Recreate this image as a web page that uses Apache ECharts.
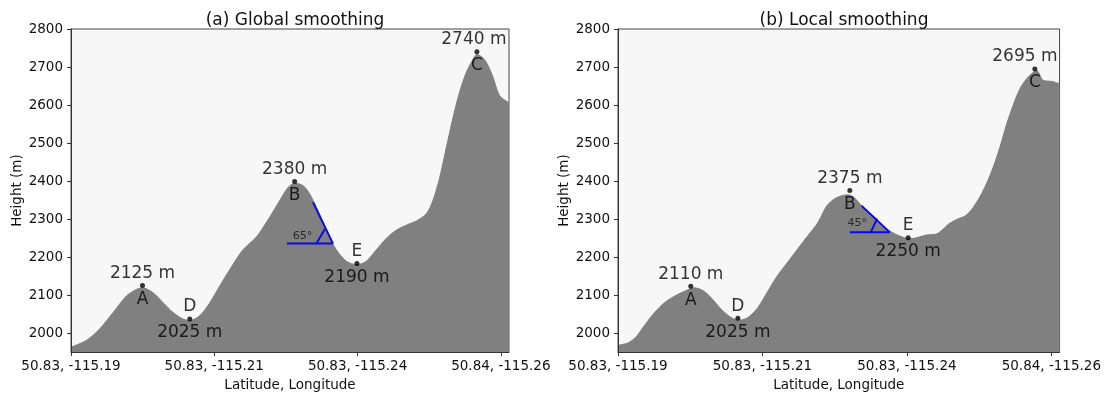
<!DOCTYPE html>
<html>
<head>
<meta charset="utf-8">
<script src="https://cdn.jsdelivr.net/npm/echarts@6/dist/echarts.min.js"></script>
<style>
  html, body { margin: 0; padding: 0; background: #fff; }
  #main { width: 1104px; height: 397px; }
</style>
</head>
<body>
<div id="main"></div>
<script>
// tick labels (lat, lon) at positions 0..3 along the track
var xTickLabels = ['50.83, -115.19', '50.83, -115.21', '50.83, -115.24', '50.84, -115.26']
var xTickPos = [0, 1, 2, 3]
var yTicks = [2000, 2100, 2200, 2300, 2400, 2500, 2600, 2700, 2800]

// (a) global smoothing profile
var distA = [0, 0.109, 0.2, 0.294, 0.388, 0.457, 0.5, 0.573, 0.643, 0.713, 0.782, 0.829, 0.899, 0.969,
  1.038, 1.108, 1.2, 1.294, 1.387, 1.457, 1.515, 1.561, 1.619, 1.666, 1.713, 1.759, 1.805, 1.852,
  1.922, 1.996, 2.061, 2.131, 2.2, 2.271, 2.34, 2.41, 2.48, 2.526, 2.573, 2.619, 2.665, 2.712,
  2.759, 2.794, 2.833, 2.886, 2.942, 2.991, 3.057]
var heightA = [1963, 1981, 2011, 2054, 2098, 2115, 2119, 2106, 2080, 2054, 2037, 2033, 2046, 2080,
  2124, 2167, 2219, 2253, 2305, 2349, 2383, 2394, 2388, 2366, 2331, 2292, 2253, 2219,
  2189, 2180, 2189, 2219, 2249, 2271, 2284, 2295, 2314, 2349, 2409, 2487, 2565, 2634,
  2686, 2712, 2733, 2720, 2677, 2625, 2606]

// (b) local smoothing profile
var distB = [0, 0.068, 0.125, 0.183, 0.253, 0.322, 0.391, 0.46, 0.53, 0.587, 0.645, 0.714, 0.783, 0.841,
  0.899, 0.968, 1.037, 1.107, 1.176, 1.245, 1.314, 1.384, 1.444, 1.49, 1.536, 1.594, 1.64, 1.686,
  1.744, 1.801, 1.859, 1.917, 1.974, 2.021, 2.078, 2.136, 2.206, 2.252, 2.286, 2.344, 2.402, 2.448,
  2.506, 2.552, 2.598, 2.644, 2.69, 2.736, 2.783, 2.829, 2.875, 2.9, 2.943, 3.004, 3.057]
var heightB = [1968, 1974, 1990, 2020, 2054, 2080, 2097, 2110, 2119, 2112, 2093, 2063, 2041, 2034,
  2041, 2067, 2110, 2153, 2187, 2222, 2256, 2291, 2334, 2351, 2360, 2364, 2355, 2335,
  2312, 2291, 2274, 2261, 2252, 2248, 2252, 2258, 2261, 2274, 2286, 2299, 2308, 2325,
  2359, 2394, 2437, 2489, 2549, 2600, 2643, 2669, 2686, 2690, 2665, 2662, 2656]

// marked points A, D, B, E, C
var ptXA = [0.499, 0.829, 1.561, 1.996, 2.833]
var ptYA = [2125, 2037, 2399, 2183, 2740]
var ptTopA = ['2125 m', 'D', '2380 m', 'E', '2740 m']
var ptBotA = ['A', '2025 m', 'B', '2190 m', 'C']

var ptXB = [0.504, 0.83, 1.605, 2.009, 2.886]
var ptYB = [2123, 2039, 2375, 2251, 2695]
var ptTopB = ['2110 m', 'D', '2375 m', 'E', '2695 m']
var ptBotB = ['A', '2025 m', 'B', '2250 m', 'C']

// slope triangles [slanted, horizontal, angle mark]
var slopeA = [[[1.689, 2344], [1.828, 2236]], [[1.507, 2236], [1.828, 2236]], [[1.713, 2236], [1.771, 2273]]]
var slopeB = [[[1.686, 2335], [1.882, 2265]], [[1.605, 2265], [1.882, 2265]], [[1.749, 2265], [1.794, 2301]]]
var angleTextA = ['65°', 1.615, 2256]
var angleTextB = ['45°', 1.656, 2289]

var FONT = 'DejaVu Sans'
var txt = '#111'
var grids = [
  { left: 71, top: 29, width: 438, height: 329 },
  { left: 618, top: 29, width: 442, height: 329 }
]

function xAxisOf(i) {
  return {
    gridIndex: i, type: 'value', min: 0, max: 3.057, z: 5,
    axisLine: { show: true, lineStyle: { color: '#333' } },
    axisTick: { show: true, length: 4, customValues: xTickPos, lineStyle: { color: '#333' } },
    axisLabel: {
      customValues: xTickPos, fontSize: 13.5, color: txt, fontFamily: FONT, margin: 7,
      formatter: function (v) { return xTickLabels[Math.round(v)] || '' }
    },
    splitLine: { show: false },
    name: 'Latitude, Longitude', nameLocation: 'middle', nameGap: 23,
    nameTextStyle: { fontSize: 13.5, color: txt, fontFamily: FONT, verticalAlign: 'top' }
  }
}

function yAxisOf(i) {
  return {
    gridIndex: i, type: 'value', min: 1950, max: 2800, z: 5,
    axisLine: { show: true, lineStyle: { color: '#333' } },
    axisTick: { show: true, length: 4, customValues: yTicks, lineStyle: { color: '#333' } },
    axisLabel: {
      customValues: yTicks, fontSize: 13.5, color: txt, fontFamily: FONT, margin: 8,
      formatter: function (v) { return String(v) }
    },
    splitLine: { show: false },
    name: 'Height (m)', nameLocation: 'middle', nameGap: 43,
    nameTextStyle: { fontSize: 13.5, color: txt, fontFamily: FONT }
  }
}

function profile(i, xs, ys) {
  return {
    type: 'line', xAxisIndex: i, yAxisIndex: i, silent: true,
    data: xs.map(function (x, k) { return [x, ys[k]] }),
    symbol: 'none', smooth: 0.3,
    lineStyle: { width: 1, color: '#808080' },
    areaStyle: { color: '#808080', opacity: 1, origin: 'start' },
    z: 2
  }
}

function points(i, xs, ys, tops, bots) {
  var lab = { show: true, fontSize: 17, color: '#000', fontFamily: FONT }
  return [{
    type: 'scatter', xAxisIndex: i, yAxisIndex: i, silent: true,
    symbolSize: 5, itemStyle: { color: '#000' },
    data: xs.map(function (x, k) {
      var d = { value: [x, ys[k]] }
      // the C peak label sits a bit left of its dot
      if (k == 4) d.label = { offset: [i == 0 ? -3 : -10, 0] }
      return d
    }),
    label: Object.assign({ position: 'top', distance: 1, formatter: function (p) { return tops[p.dataIndex] } }, lab),
    z: 4
  }, {
    type: 'scatter', xAxisIndex: i, yAxisIndex: i, silent: true,
    symbolSize: 1, itemStyle: { color: 'rgba(0,0,0,0)' },
    data: xs.map(function (x, k) { return [x, ys[k]] }),
    label: Object.assign({ position: 'bottom', distance: 5, formatter: function (p) { return bots[p.dataIndex] } }, lab),
    z: 4
  }]
}

function slope(i, segs, angleText) {
  var out = segs.map(function (s) {
    return {
      type: 'line', xAxisIndex: i, yAxisIndex: i, silent: true, data: s,
      symbol: 'none', lineStyle: { color: '#0a0ae6', width: 2 }, z: 3
    }
  })
  out.push({
    type: 'scatter', xAxisIndex: i, yAxisIndex: i, silent: true, symbolSize: 0,
    data: [[angleText[1], angleText[2]]],
    label: { show: true, position: 'inside', formatter: angleText[0], fontSize: 11, color: '#111', fontFamily: FONT },
    z: 4
  })
  return out
}

var mychart = echarts.init(document.getElementById('main'), null, { renderer: 'canvas' })
var option = {
  animation: false,
  textStyle: { fontFamily: FONT },
  title: [
    { text: '(a) Global smoothing', left: 290, top: 7, textAlign: 'center',
      textStyle: { fontSize: 17, fontWeight: 'normal', color: txt, fontFamily: FONT } },
    { text: '(b) Local smoothing', left: 839, top: 7, textAlign: 'center',
      textStyle: { fontSize: 17, fontWeight: 'normal', color: txt, fontFamily: FONT } }
  ],
  grid: grids.map(function (g) {
    return Object.assign({ show: true, backgroundColor: '#f7f7f7', borderColor: '#444', borderWidth: 1 }, g)
  }),
  xAxis: [xAxisOf(0), xAxisOf(1)],
  yAxis: [yAxisOf(0), yAxisOf(1)],
  series: [].concat(
    profile(0, distA, heightA),
    profile(1, distB, heightB),
    slope(0, slopeA, angleTextA),
    slope(1, slopeB, angleTextB),
    points(0, ptXA, ptYA, ptTopA, ptBotA),
    points(1, ptXB, ptYB, ptTopB, ptBotB)
  )
}
mychart.setOption(option)
</script>
</body>
</html>
